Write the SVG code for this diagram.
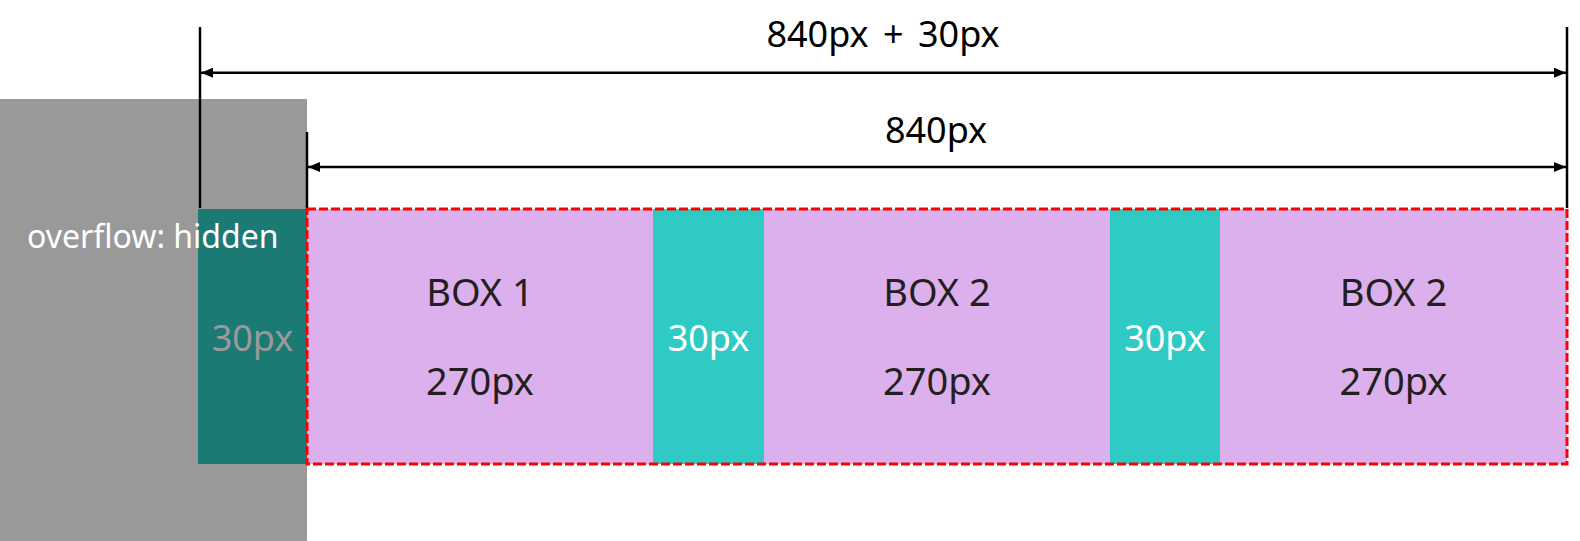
<svg xmlns="http://www.w3.org/2000/svg" width="1580" height="541" viewBox="0 0 1580 541">
  <defs>
    <marker id="ah" viewBox="0 0 12 10" refX="12" refY="5" markerWidth="12" markerHeight="10" markerUnits="userSpaceOnUse" orient="auto-start-reverse">
      <path d="M0,0 L12,5 L0,10 z" fill="#000"/>
    </marker>
    <style>
      .t { font-family: "Noto Sans", "Open Sans", "Noto Sans CJK KR", sans-serif; text-anchor: middle; }
      .lbl { font-size: 38px; fill: #231f20; }
      .gap { font-size: 36px; fill: #ffffff; }
      .dim { font-size: 36px; fill: #000; word-spacing: 5px; }
      .ext { stroke: #000; stroke-width: 2.5; fill: none; }
      .arr { stroke: #000; stroke-width: 2.5; fill: none; marker-start: url(#ah); marker-end: url(#ah); }
      .box { fill: #dcb0ec; }
      .gutter { fill: #30cac5; }
    </style>
  </defs>

  <g id="overflow-area">
    <rect x="0" y="99" width="307" height="442" fill="#999999"/>
  </g>

  <g id="hidden-gap">
    <rect x="198" y="209" width="109" height="255" fill="#1c7a74"/>
    <text class="t" x="252.5" y="351" font-size="36" fill="#9a9a9a">30px</text>
  </g>

  <g id="overflow-label">
    <text x="27" y="248" font-family="Noto Sans, Open Sans, sans-serif" font-size="32" fill="#ffffff">overflow: hidden</text>
  </g>

  <g id="box1">
    <rect class="box" x="307" y="209" width="346" height="255"/>
    <text class="t lbl" x="480" y="306">BOX 1</text>
    <text class="t lbl" x="480" y="395">270px</text>
  </g>

  <g id="gap1">
    <rect class="gutter" x="653" y="209" width="111" height="255"/>
    <text class="t gap" x="708.5" y="351">30px</text>
  </g>

  <g id="box2">
    <rect class="box" x="764" y="209" width="346" height="255"/>
    <text class="t lbl" x="937" y="306">BOX 2</text>
    <text class="t lbl" x="937" y="395">270px</text>
  </g>

  <g id="gap2">
    <rect class="gutter" x="1110" y="209" width="110" height="255"/>
    <text class="t gap" x="1165" y="351">30px</text>
  </g>

  <g id="box3">
    <rect class="box" x="1220" y="209" width="347" height="255"/>
    <text class="t lbl" x="1393.5" y="306">BOX 2</text>
    <text class="t lbl" x="1393.5" y="395">270px</text>
  </g>

  <g id="container">
    <rect x="307" y="209" width="1260" height="255" fill="none" stroke="#ff0000" stroke-width="3" stroke-dasharray="9,3"/>
  </g>

  <g id="connectors">
    <line class="ext" x1="200" y1="27" x2="200" y2="208"/>
    <line class="ext" x1="307" y1="132" x2="307" y2="208"/>
    <line class="ext" x1="1567" y1="27" x2="1567" y2="208"/>
    <line class="arr" x1="201" y1="72.7" x2="1566" y2="72.7"/>
    <line class="arr" x1="308" y1="167" x2="1566" y2="167"/>
  </g>

  <g id="dim-labels">
    <text class="t dim" x="883" y="47">840px + 30px</text>
    <text class="t dim" x="936" y="143">840px</text>
  </g>
</svg>
